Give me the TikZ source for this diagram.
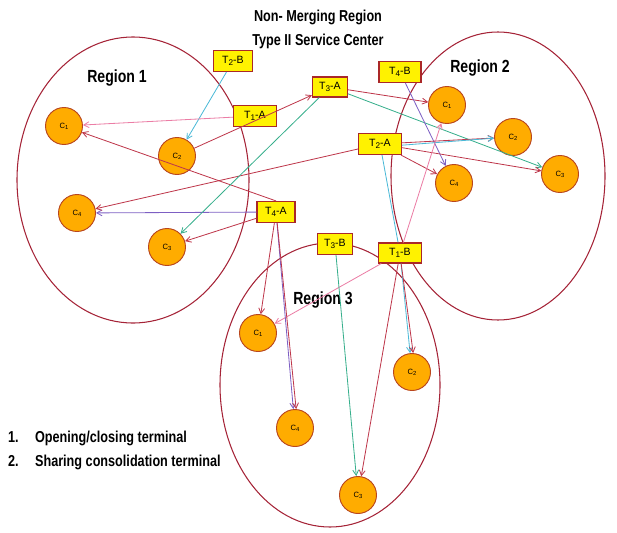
\documentclass[tikz,border=0pt]{standalone}
\usepackage{fontspec}
\setmainfont{Liberation Sans}
\newfontfamily\narrowfont{Liberation Sans}[FakeStretch=0.8]
\usetikzlibrary{arrows.meta}

\definecolor{regred}{RGB}{165,35,55}
\definecolor{custfill}{RGB}{255,172,0}
\definecolor{custedge}{RGB}{185,70,30}
\definecolor{termedge}{RGB}{170,40,40}
\definecolor{linered}{RGB}{190,55,75}
\definecolor{linepink}{RGB}{235,125,165}
\definecolor{linecyan}{RGB}{75,185,215}
\definecolor{linegreen}{RGB}{55,175,140}
\definecolor{linepurple}{RGB}{125,95,195}

\newcommand{\tsub}[1]{\raisebox{-1.2pt}{\fontsize{7}{7}\selectfont #1}}
\newcommand{\csub}[1]{\raisebox{-1pt}{\fontsize{5}{5}\selectfont #1}}

\tikzset{
  region/.style={draw=regred, line width=0.9pt},
  reglabel/.style={font=\narrowfont\bfseries\fontsize{15}{17}\selectfont},
  bigtext/.style={font=\narrowfont\bfseries\fontsize{13.5}{20.5}\selectfont},
  cust/.style={circle, draw=custedge, fill=custfill, line width=0.8pt,
    minimum size=1.11cm, inner sep=0pt, font=\fontsize{6.5}{6.5}\selectfont},
  term/.style={draw=termedge, fill=yellow, line width=1pt,
    minimum height=0.63cm, minimum width=1.29cm, inner sep=1pt,
    font=\fontsize{9}{9}\selectfont},
  link/.style={-{Straight Barb[length=4.5pt,width=5pt]}, line width=0.7pt},
}

\begin{document}
\begin{tikzpicture}[x=0.03cm,y=-0.03cm]
  \useasboundingbox (0,0) rectangle (617,532);

  % title and legend
  \node[bigtext, align=center] (title) at (318,29)
    {Non- Merging Region\\Type II Service Center};
  \node[bigtext, anchor=west] (legend) at (4,450)
    {\begin{tabular}{@{}l@{\hspace{14pt}}l@{}}
      1. & Opening/closing terminal\\
      2. & Sharing consolidation terminal
    \end{tabular}};

  % regions
  \draw[region] (133,180) ellipse [x radius=116, y radius=143];
  \draw[region] (498,176) ellipse [x radius=107, y radius=144];
  \draw[region] (330,385) ellipse [x radius=110, y radius=142];
  \node[reglabel] (lab1) at (117,78) {Region 1};
  \node[reglabel] (lab2) at (480,68) {Region 2};
  \node[reglabel] (lab3) at (323,300) {Region 3};

  % customers of region 1
  \node[cust] (a1) at (64,126) {C\csub{1}};
  \node[cust] (a2) at (177,156) {C\csub{2}};
  \node[cust] (a3) at (167,247) {C\csub{3}};
  \node[cust] (a4) at (77,213) {C\csub{4}};
  % customers of region 2
  \node[cust] (b1) at (447,105) {C\csub{1}};
  \node[cust] (b2) at (513,137) {C\csub{2}};
  \node[cust] (b3) at (560,174) {C\csub{3}};
  \node[cust] (b4) at (454,183) {C\csub{4}};
  % customers of region 3
  \node[cust] (c1) at (258,333) {C\csub{1}};
  \node[cust] (c2) at (412,372) {C\csub{2}};
  \node[cust] (c3) at (358,495) {C\csub{3}};
  \node[cust] (c4) at (295,428) {C\csub{4}};

  % terminals
  \node[term, minimum width=1.17cm] (t2b) at (233,61) {T\tsub{2}-B};
  \node[term] (t1a) at (255,116) {T\tsub{1}-A};
  \node[term, minimum width=1.05cm, minimum height=0.6cm] (t3a) at (330,87) {T\tsub{3}-A};
  \node[term, minimum width=1.26cm] (t4b) at (400,72) {T\tsub{4}-B};
  \node[term] (t2a) at (380,144) {T\tsub{2}-A};
  \node[term, minimum width=1.14cm] (t4a) at (276,212) {T\tsub{4}-A};
  \node[term, minimum width=1.05cm] (t3b) at (335,244) {T\tsub{3}-B};
  \node[term, minimum height=0.6cm] (t1b) at (400,253) {T\tsub{1}-B};

  % links into region 1
  \draw[link, linecyan] (t2b) -- (a2);
  \draw[link, linepink] (t1a) -- (a1);
  \draw[link, linered] (a2) -- (t3a);
  \draw[link, linered] (t4a.north) -- (a1);
  \draw[link, linepurple] (t4a) -- (a4);
  \draw[link, linered] (t2a) -- (a4);
  \draw[link, linered] (t4a) -- (a3);
  \draw[link, linegreen] (t3a) -- (a3);
  % links into region 2
  \draw[link, linered] (t3a) -- (b1);
  \draw[link, linegreen] (t3a) -- (b3);
  \draw[link, linepurple] (t4b) -- (b4);
  \draw[link, linered] (t2a) -- (b2);
  \draw[link, linecyan] ([yshift=-1pt]t2a.east) -- ([yshift=-1pt]b2.west);
  \draw[link, linered] (t2a) -- (b3);
  \draw[link, linered] (t2a) -- (b4);
  \draw[link, linepink] (t1b) -- (b1);
  % links into region 3
  \draw[linecyan, line width=0.7pt] (t2a) -- (t1b);
  \draw[link, linecyan] (t1b) -- (c2);
  \draw[link, linered] ([xshift=1pt]t1b.south) -- ([xshift=1pt]c2.north);
  \draw[link, linepink] (t1b) -- (c1);
  \draw[link, linered] (t1b) -- (c3);
  \draw[link, linegreen] (t3b) -- (c3);
  \draw[link, linered] (t4a) -- (c1);
  \draw[link, linepurple] (t4a) -- (c4);
  \draw[link, linered] ([xshift=1pt]t4a.south) -- ([xshift=1pt]c4.north);
\end{tikzpicture}
\end{document}
